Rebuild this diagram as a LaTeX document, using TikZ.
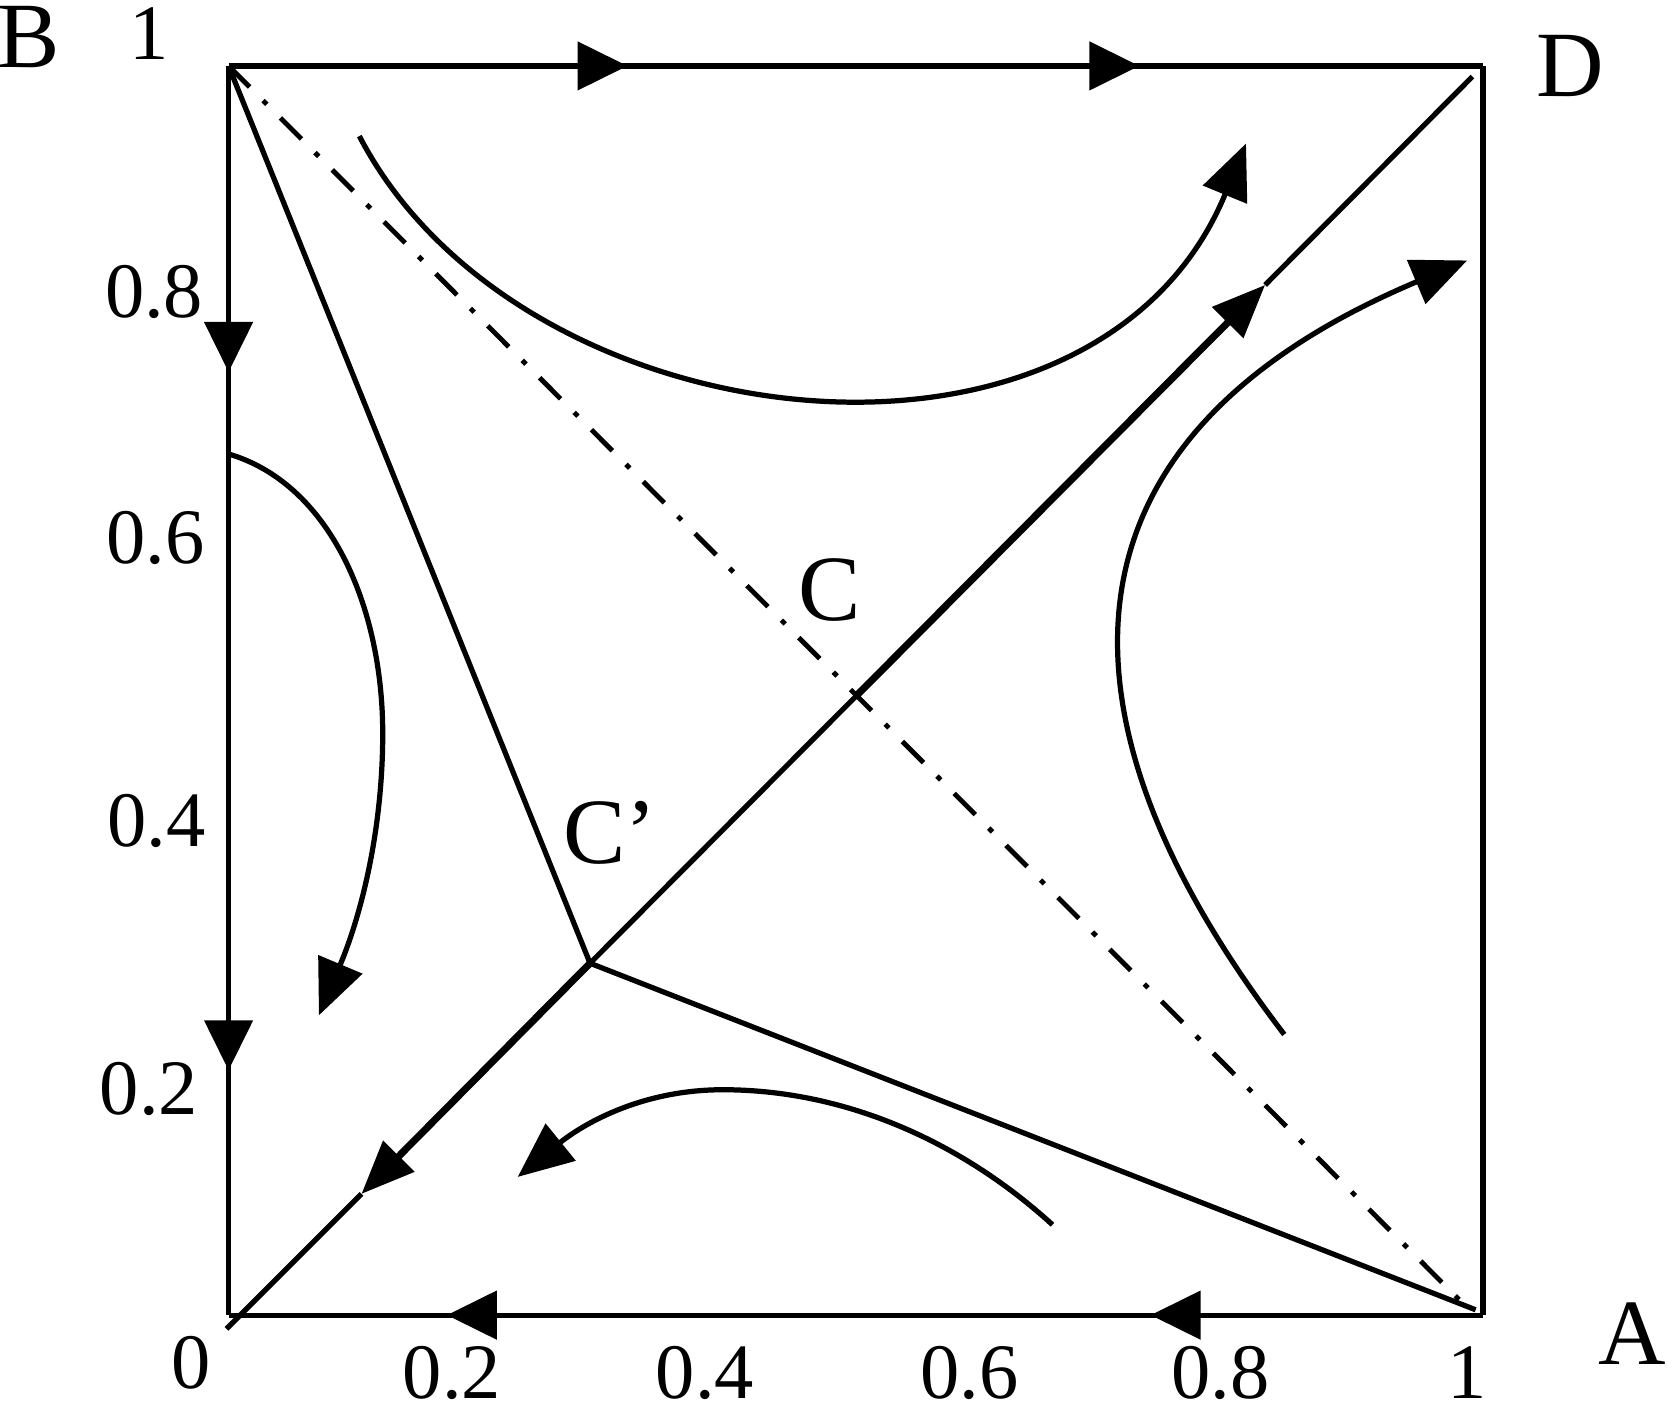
\documentclass[tikz,border=0pt]{standalone}
\usepackage{fontspec}
\setmainfont{Liberation Serif}
\usetikzlibrary{arrows.meta,decorations.markings}
\begin{document}
\begin{tikzpicture}[x=0.01cm,y=-0.01cm,
  ln/.style={line width=1.4pt},
  thk/.style={line width=1.9pt},
  >={Triangle[length=0.47cm,width=0.45cm]},
  cur/.style={line width=1.4pt,-{Triangle[length=0.52cm,width=0.44cm]}},
  dgarr/.style={line width=1.9pt,-{Triangle[length=0.5cm,width=0.4cm]}},
  dd/.style={line width=1.3pt,dash pattern=on 0.28cm off 0.18cm on 0.05cm off 0.18cm},
  num/.style={inner sep=0pt,font=\fontsize{21}{25}\selectfont},
  let/.style={inner sep=0pt,font=\fontsize{25}{30}\selectfont},
  marks/.style 2 args={postaction={decorate},decoration={markings,
     mark=at position #1 with {\arrow{>}},
     mark=at position #2 with {\arrow{>}}}}
]
\useasboundingbox (0,0) rectangle (1568,1329);
% corners and points
\coordinate (O) at (215,1237);
\coordinate (A) at (1395,1237);
\coordinate (B) at (215,62);
\coordinate (D) at (1395,62);
\coordinate (Cp) at (555,906);
\coordinate (C) at (805,655);
\coordinate (dlo) at (213,1250);
\coordinate (dhi) at (1385,72);
\coordinate (t1) at (340,1123);
\coordinate (t2) at (1190,268);
\coordinate (adlo) at (1380,1230);
\coordinate (Aend) at (1388,1232);
% square edges
\draw[ln,marks={0.318}{0.726}] (B) -- (D);
\draw[ln] (D) -- (A);
\draw[ln,marks={0.265}{0.826}] (A) -- (O);
\draw[ln,marks={0.245}{0.804}] (B) -- (O);
% anti-diagonal
\draw[dd] (B) -- (adlo);
% lines to C'
\draw[ln] (B) -- (Cp) -- (Aend);
% main diagonal
\draw[dgarr] (Cp) -- (t1);
\draw[ln] (t1) -- (dlo);
\draw[ln] (Cp) -- (C);
\draw[dgarr] (C) -- (t2);
\draw[ln] (t2) -- (dhi);
% flow curves
\coordinate (k1s) at (338,128);
\coordinate (k1e) at (1172,135);
\draw[cur] (k1s) .. controls (490,420) and (1030,480) .. (k1e);
\coordinate (k2s) at (1208,973);
\coordinate (k2e) at (1380,245);
\draw[cur] (k2s) .. controls (995,695) and (965,420) .. (k2e);
\coordinate (k3s) at (215,427);
\coordinate (k3m) at (360,690);
\coordinate (k3e) at (300,955);
\draw[cur] (k3s) .. controls (310,455) and (360,570) .. (k3m)
  .. controls (360,780) and (340,860) .. (k3e);
\coordinate (k4s) at (990,1152);
\coordinate (k4m) at (680,1025);
\coordinate (k4e) at (487,1107);
\draw[cur] (k4s) .. controls (900,1070) and (790,1025) .. (k4m)
  .. controls (600,1025) and (545,1060) .. (k4e);
% labels
\node[let] (lB) at (27,35) {B};
\node[num] (l1y) at (140,32) {1};
\node[let] (lD) at (1477,62) {D};
\node[let] (lA) at (1535,1254) {A};
\node[num] (l0) at (180,1282) {0};
\node[num] (lx2) at (425,1291) {0.2};
\node[num] (lx4) at (663,1291) {0.4};
\node[num] (lx6) at (912,1291) {0.6};
\node[num] (lx8) at (1148,1291) {0.8};
\node[num] (lx1) at (1380,1291) {1};
\node[num] (ly8) at (145,275) {0.8};
\node[num] (ly6) at (146,506) {0.6};
\node[num] (ly4) at (147,772) {0.4};
\node[num] (ly2) at (140,1024) {0.2};
\node[let] (lC) at (780,555) {C};
\node[let] (lCp) at (574,783) {C’};
\end{tikzpicture}
\end{document}
